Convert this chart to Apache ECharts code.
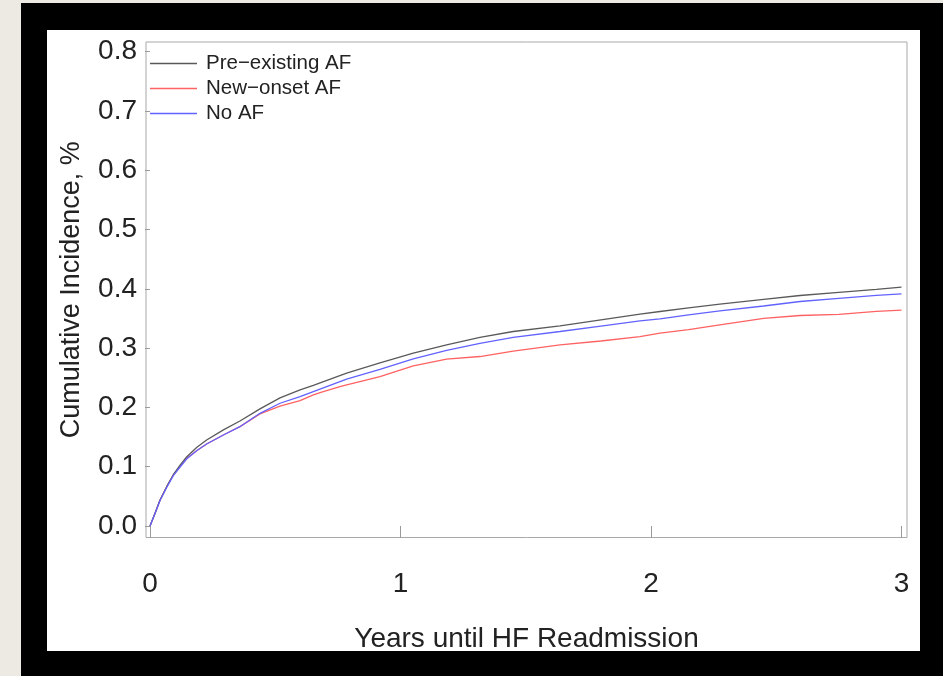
<!DOCTYPE html>
<html>
<head>
<meta charset="utf-8">
<script src="https://cdn.jsdelivr.net/npm/echarts@6/dist/echarts.min.js"></script>
<style>
  html, body { margin: 0; padding: 0; background: #EDEAE3; width: 943px; height: 676px; overflow: hidden; }
  #frame { position: absolute; left: 21px; top: 3px; width: 922px; height: 673px; background: #000; }
  #paper { position: absolute; left: 47px; top: 30px; width: 873px; height: 621px; background: #fff; }
  #chart { position: absolute; left: 0; top: 0; width: 943px; height: 676px; }
</style>
</head>
<body>
<div id="frame"></div>
<div id="paper"></div>
<div id="chart"></div>
<script>
// ---- data ----
const seriesNames = ['Pre\u2212existing AF', 'New\u2212onset AF', 'No AF'];

const preX = [0, 0.02, 0.04, 0.0665, 0.093, 0.12, 0.146, 0.186, 0.226, 0.293, 0.359, 0.439, 0.519, 0.599, 0.652, 0.785, 0.918, 1.051, 1.184, 1.317, 1.45, 1.637, 1.8, 1.956, 2.036, 2.15, 2.275, 2.45, 2.595, 2.75, 2.9, 3.0];
const preY = [0, 0.0214, 0.0438, 0.0663, 0.0865, 0.1025, 0.1165, 0.1325, 0.145, 0.162, 0.177, 0.1975, 0.216, 0.2295, 0.237, 0.2577, 0.275, 0.2915, 0.3055, 0.318, 0.328, 0.3376, 0.3476, 0.3572, 0.3617, 0.368, 0.374, 0.382, 0.3887, 0.394, 0.399, 0.403];

const newX = [0, 0.02, 0.04, 0.0665, 0.093, 0.12, 0.146, 0.186, 0.226, 0.293, 0.359, 0.439, 0.519, 0.599, 0.652, 0.679, 0.758, 0.785, 0.838, 0.918, 1.051, 1.184, 1.317, 1.45, 1.637, 1.8, 1.956, 2.036, 2.15, 2.275, 2.45, 2.595, 2.75, 2.9, 3.0];
const newY = [0, 0.0214, 0.0438, 0.0663, 0.086, 0.1, 0.114, 0.127, 0.1383, 0.1535, 0.1675, 0.189, 0.202, 0.2115, 0.221, 0.225, 0.235, 0.238, 0.2436, 0.2518, 0.27, 0.2813, 0.2858, 0.295, 0.3055, 0.312, 0.3195, 0.3252, 0.331, 0.339, 0.35, 0.355, 0.357, 0.362, 0.364];

const noX = [0, 0.02, 0.04, 0.0665, 0.093, 0.12, 0.146, 0.186, 0.226, 0.293, 0.359, 0.439, 0.519, 0.599, 0.652, 0.785, 0.918, 1.051, 1.184, 1.317, 1.45, 1.637, 1.8, 1.956, 2.036, 2.15, 2.275, 2.45, 2.595, 2.75, 2.9, 3.0];
const noY = [0, 0.021, 0.043, 0.065, 0.085, 0.0995, 0.113, 0.127, 0.1383, 0.1535, 0.1675, 0.190, 0.207, 0.2183, 0.2267, 0.2476, 0.264, 0.2819, 0.296, 0.308, 0.318, 0.328, 0.337, 0.346, 0.3494, 0.356, 0.3629, 0.371, 0.3786, 0.384, 0.389, 0.3916];

const xTickValues = [0, 1, 2, 3];
const xTickLabels = ['0', '1', '2', '3'];
const yTickValues = [0, 0.1, 0.2, 0.3, 0.4, 0.5, 0.6, 0.7, 0.8];
const yTickLabels = ['0.0', '0.1', '0.2', '0.3', '0.4', '0.5', '0.6', '0.7', '0.8'];

function pairs(xs, ys) { return xs.map((x, i) => [x, ys[i]]); }

const FONT = "'Liberation Sans', Arial, sans-serif";
const chart = echarts.init(document.getElementById('chart'), null, { renderer: 'canvas' });

chart.setOption({
  backgroundColor: 'transparent',
  animation: false,
  textStyle: { fontFamily: FONT },
  grid: {
    left: 146, right: 36, top: 42, bottom: 138.5,
    show: true, borderColor: '#a8a8a8', borderWidth: 1, backgroundColor: 'transparent'
  },
  legend: {
    orient: 'vertical', left: 150, top: 53,
    icon: 'rect',
    itemWidth: 47, itemHeight: 1.3, itemGap: 4, padding: 0,
    textStyle: { fontSize: 20.5, color: '#222', fontFamily: FONT, lineHeight: 21, padding: [0, 0, 0, 4] },
    data: seriesNames
  },
  xAxis: {
    type: 'value', min: -0.016, max: 3.022,
    axisLine: { show: false },
    splitLine: { show: false },
    axisTick: { show: true, length: 12, customValues: xTickValues, lineStyle: { color: '#9a9a9a' } },
    axisLabel: {
      customValues: xTickValues,
      formatter: v => xTickLabels[xTickValues.indexOf(v)] ?? String(v),
      fontSize: 28, color: '#222', margin: 33, fontFamily: FONT
    },
    name: 'Years until HF Readmission', nameLocation: 'middle', nameGap: 88,
    nameTextStyle: { fontSize: 28, color: '#222', fontFamily: FONT }
  },
  yAxis: {
    type: 'value', min: -0.0194, max: 0.8162,
    axisLine: { show: false },
    splitLine: { show: false },
    axisTick: { show: true, length: 5, customValues: yTickValues, lineStyle: { color: '#9a9a9a' } },
    axisLabel: {
      customValues: yTickValues,
      formatter: v => { const i = yTickValues.findIndex(t => Math.abs(t - v) < 1e-9); return i >= 0 ? yTickLabels[i] : v.toFixed(1); },
      fontSize: 28, color: '#222', margin: 9, fontFamily: FONT, padding: [3, 0, 0, 0]
    },
    name: 'Cumulative Incidence, %', nameLocation: 'middle', nameGap: 61,
    nameTextStyle: { fontSize: 27, color: '#222', fontFamily: FONT }
  },
  series: [
    { name: seriesNames[0], type: 'line', symbol: 'none', data: pairs(preX, preY), lineStyle: { color: '#5a5a5a', width: 1.3 }, itemStyle: { color: '#5a5a5a' }, z: 3 },
    { name: seriesNames[1], type: 'line', symbol: 'none', data: pairs(newX, newY), lineStyle: { color: '#ff6262', width: 1.3 }, itemStyle: { color: '#ff6262' }, z: 2 },
    { name: seriesNames[2], type: 'line', symbol: 'none', data: pairs(noX, noY), lineStyle: { color: '#6262ff', width: 1.3 }, itemStyle: { color: '#6262ff' }, z: 4 }
  ]
});
</script>
</body>
</html>
